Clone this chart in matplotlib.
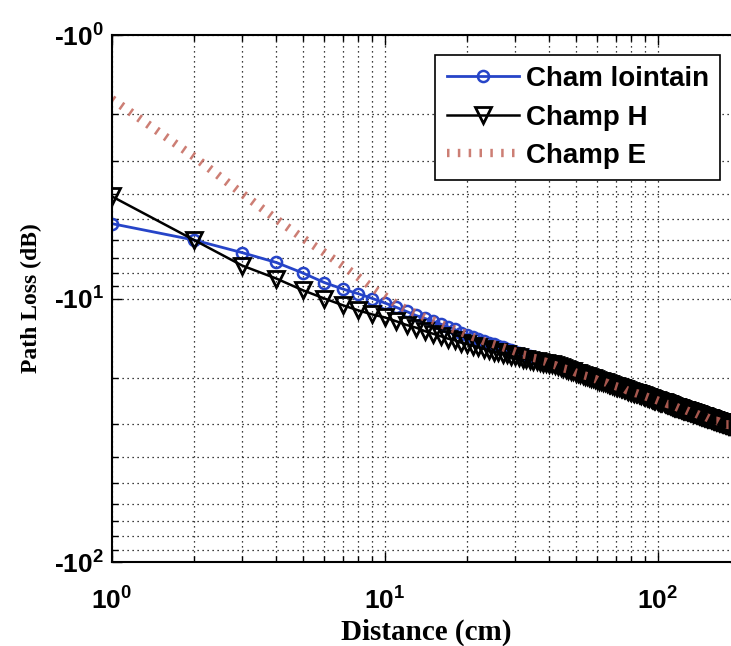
import matplotlib
matplotlib.use("Agg")
import matplotlib.pyplot as plt
from matplotlib.ticker import LogLocator, FuncFormatter, NullFormatter
import numpy as np

plt.rcParams['font.family'] = ['Liberation Sans', 'DejaVu Sans']
plt.rcParams['font.weight'] = 'bold'
plt.rcParams['mathtext.fontset'] = 'custom'
plt.rcParams['mathtext.rm'] = 'Liberation Sans:bold'
plt.rcParams['mathtext.it'] = 'Liberation Sans:bold'
plt.rcParams['mathtext.bf'] = 'Liberation Sans:bold'
plt.rcParams['mathtext.default'] = 'rm'

# distance in cm (one sample per cm)
distance = np.arange(1, 201)

# path loss magnitude (dB); the three curves coincide past ~40 cm
common_tail = [
    17.8, 17.9, 18.1, 18.2, 18.4, 18.5, 18.6, 18.8, 18.9, 19.1,
    19.2, 19.3, 19.5, 19.6, 19.7, 19.9, 20.0, 20.1, 20.2, 20.4,
    20.5, 20.6, 20.7, 20.8, 20.9, 21.1, 21.2, 21.3, 21.4, 21.5,
    21.6, 21.7, 21.8, 21.9, 22.0, 22.1, 22.3, 22.4, 22.5, 22.6,
    22.7, 22.8, 22.9, 22.9, 23.0, 23.1, 23.2, 23.3, 23.4, 23.5,
    23.6, 23.7, 23.8, 23.9, 24.0, 24.1, 24.2, 24.2, 24.3, 24.4,
    24.5, 24.6, 24.7, 24.8, 24.8, 24.9, 25.0, 25.1, 25.2, 25.2,
    25.3, 25.4, 25.5, 25.6, 25.7, 25.7, 25.8, 25.9, 26.0, 26.1,
    26.1, 26.2, 26.3, 26.4, 26.4, 26.5, 26.6, 26.7, 26.7, 26.8,
    26.9, 26.9, 27.0, 27.1, 27.2, 27.2, 27.3, 27.4, 27.5, 27.5,
    27.6, 27.7, 27.7, 27.8, 27.9, 27.9, 28.0, 28.1, 28.1, 28.2,
    28.3, 28.3, 28.4, 28.5, 28.5, 28.6, 28.7, 28.7, 28.8, 28.9,
    28.9, 29.0, 29.1, 29.1, 29.2, 29.2, 29.3, 29.4, 29.4, 29.5,
    29.5, 29.6, 29.7, 29.7, 29.8, 29.9, 29.9, 30.0, 30.0, 30.1,
    30.2, 30.2, 30.3, 30.3, 30.4, 30.5, 30.5, 30.6, 30.6, 30.7,
    30.7, 30.8, 30.9, 30.9, 31.0, 31.0, 31.1, 31.1, 31.2, 31.3,
]

far_head = [
    5.2, 6.0, 6.7, 7.3, 8.0, 8.7, 9.2, 9.6, 10.0, 10.4,
    10.8, 11.2, 11.6, 11.9, 12.2, 12.5, 12.8, 13.1, 13.5, 13.8,
    14.0, 14.2, 14.5, 14.7, 14.9, 15.1, 15.3, 15.5, 15.7, 15.9,
    16.1, 16.3, 16.4, 16.6, 16.8, 16.9, 17.1, 17.3, 17.4, 17.6,
]
h_head = [
    4.1, 6.0, 7.5, 8.4, 9.3, 10.0, 10.6, 11.1, 11.5, 11.8,
    12.2, 12.6, 12.9, 13.3, 13.6, 13.9, 14.2, 14.4, 14.7, 14.9,
    15.1, 15.3, 15.5, 15.7, 15.9, 16.0, 16.2, 16.3, 16.5, 16.6,
    16.7, 16.9, 17.0, 17.1, 17.2, 17.3, 17.4, 17.5, 17.6, 17.7,
]
e_head = [
    1.75, 2.9, 4.0, 5.0, 5.9, 6.7, 7.5, 8.3, 9.1, 9.8,
    10.5, 11.0, 11.4, 11.8, 12.1, 12.5, 12.8, 13.1, 13.4, 13.7,
    14.0, 14.2, 14.5, 14.7, 14.9, 15.1, 15.3, 15.5, 15.7, 15.9,
    16.1, 16.3, 16.4, 16.6, 16.8, 16.9, 17.1, 17.3, 17.4, 17.6,
]

far_field = np.array(far_head + common_tail)
h_field = np.array(h_head + common_tail)
e_field = np.array(e_head + common_tail)

labels = ['Cham lointain', 'Champ H', 'Champ E']

fig = plt.figure(figsize=(7.31, 6.46), dpi=100)
# the right edge of the axes runs past the figure, as in the cropped original
ax = fig.add_axes([112 / 731, 84 / 646, 628 / 731, 527 / 646])

ax.plot(distance, far_field, color='#2644c8', lw=2.0, marker='o', ms=8,
        mfc='none', mec='#2644c8', mew=1.8, label=labels[0])
ax.plot(distance, h_field, color='black', lw=1.8, marker='v', ms=11,
        mfc='none', mec='black', mew=2.0, label=labels[1])
ax.plot(distance, e_field, color='#c4675c', lw=6, ls=(0, (0.3, 1.0)),
        dash_capstyle='butt', alpha=0.85, label=labels[2])

ax.set_xscale('log')
ax.set_yscale('log')
ax.set_xlim(1, 200)
ax.set_ylim(100, 1)

ax.xaxis.set_major_locator(LogLocator(base=10, numticks=10))
ax.xaxis.set_minor_locator(LogLocator(base=10, subs=np.arange(2, 10), numticks=20))
ax.yaxis.set_major_locator(LogLocator(base=10, numticks=10))
ax.yaxis.set_minor_locator(LogLocator(base=10, subs=np.arange(2, 10), numticks=20))
ax.xaxis.set_major_formatter(FuncFormatter(lambda v, p: r'$10^{%d}$' % round(np.log10(v))))
ax.yaxis.set_major_formatter(FuncFormatter(lambda v, p: r'-$10^{%d}$' % round(np.log10(v))))
ax.xaxis.set_minor_formatter(NullFormatter())
ax.yaxis.set_minor_formatter(NullFormatter())

ax.grid(True, which='both', color='black', ls=(0, (1, 3)), lw=0.9)
ax.tick_params(which='both', direction='in', top=True, right=True, width=1)
ax.tick_params(which='major', length=7, labelsize=19)
ax.tick_params(which='minor', length=4)
ax.tick_params(axis='x', pad=18)
ax.tick_params(axis='y', pad=6)
for s in ax.spines.values():
    s.set_linewidth(1.5)

ax.set_xlabel('Distance (cm)', family='Liberation Serif', weight='bold', fontsize=21, labelpad=3)
ax.set_ylabel('Path Loss (dB)', family='Liberation Serif', weight='bold', fontsize=17, labelpad=8)

leg = ax.legend(loc='upper right', bbox_to_anchor=(720 / 731, 591 / 646),
                bbox_transform=fig.transFigure, borderaxespad=0,
                prop={'family': 'Liberation Sans', 'weight': 'bold', 'size': 20},
                handlelength=2.6, handletextpad=0.25, labelspacing=0.45,
                borderpad=0.4, fancybox=False, framealpha=1, edgecolor='black')
leg.get_frame().set_linewidth(1.2)

fig.savefig('out.png', dpi=100)
